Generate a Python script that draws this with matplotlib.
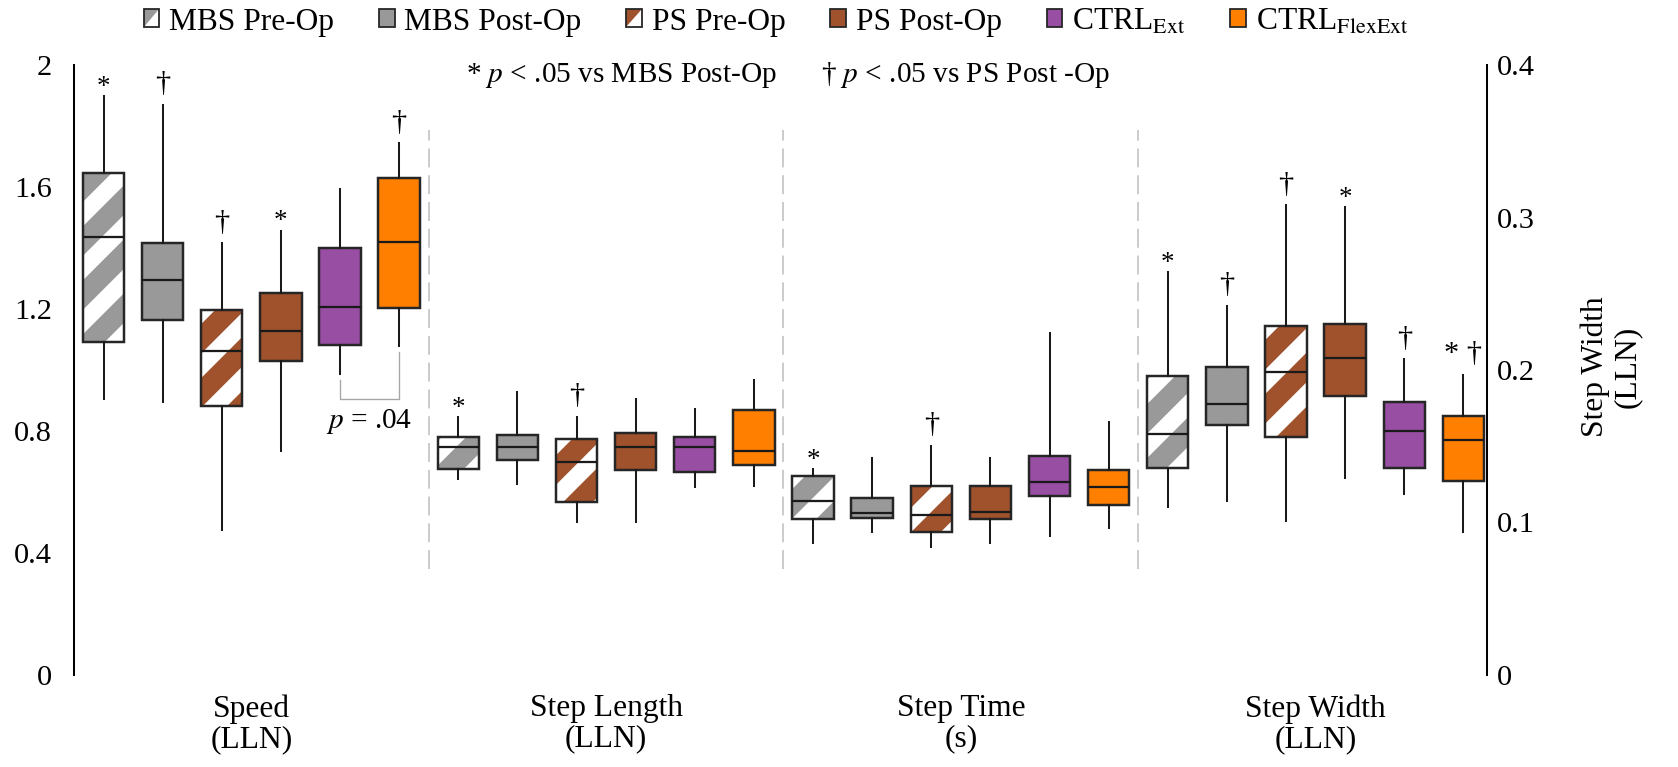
import numpy as np
import matplotlib
matplotlib.use("Agg")
import matplotlib.pyplot as plt
from matplotlib.patches import Patch, PathPatch, Rectangle, Polygon
from matplotlib.legend_handler import HandlerBase

plt.rcParams['font.family'] = ['Liberation Serif', 'DejaVu Serif']
plt.rcParams['mathtext.fontset'] = 'stix'
plt.rcParams['hatch.linewidth'] = 9.3

groups = ['Speed\n(LLN)', 'Step Length\n(LLN)', 'Step Time\n(s)', 'Step Width\n(LLN)']
series = ['MBS Pre-Op', 'MBS Post-Op', 'PS Pre-Op', 'PS Post-Op',
          'CTRL$_{\\mathrm{Ext}}$', 'CTRL$_{\\mathrm{FlexExt}}$']
colors = ['#999999', '#999999', '#A0522D', '#A0522D', '#984EA3', '#FF7F00']
hatched = [True, False, True, False, False, False]

# box statistics per measure: lower whisker, Q1, median, Q3, upper whisker
speed_lo = [0.904, 0.894, 0.475, 0.735, 0.987, 1.079]
speed_q1 = [1.091, 1.164, 0.882, 1.030, 1.082, 1.202]
speed_med = [1.435, 1.295, 1.063, 1.129, 1.208, 1.421]
speed_q3 = [1.645, 1.415, 1.197, 1.251, 1.401, 1.628]
speed_hi = [1.898, 1.869, 1.415, 1.457, 1.592, 1.743]

length_lo = [0.644, 0.626, 0.502, 0.502, 0.615, 0.621]
length_q1 = [0.676, 0.704, 0.568, 0.673, 0.667, 0.688]
length_med = [0.749, 0.749, 0.700, 0.748, 0.748, 0.733]
length_q3 = [0.781, 0.786, 0.773, 0.794, 0.781, 0.870]
length_hi = [0.845, 0.928, 0.847, 0.904, 0.871, 0.967]

time_lo = [0.432, 0.468, 0.421, 0.432, 0.457, 0.481]
time_q1 = [0.511, 0.515, 0.468, 0.511, 0.588, 0.558]
time_med = [0.572, 0.532, 0.526, 0.535, 0.632, 0.617]
time_q3 = [0.653, 0.581, 0.619, 0.621, 0.719, 0.673]
time_hi = [0.674, 0.712, 0.752, 0.712, 1.120, 0.831]

width_lo = [0.110, 0.114, 0.101, 0.129, 0.119, 0.094]
width_q1 = [0.136, 0.164, 0.156, 0.183, 0.136, 0.127]
width_med = [0.158, 0.178, 0.199, 0.208, 0.160, 0.154]
width_q3 = [0.196, 0.202, 0.229, 0.230, 0.179, 0.170]
width_hi = [0.264, 0.242, 0.308, 0.307, 0.207, 0.197]

speed_sig = ['*', '†', '†', '*', '', '†']
length_sig = ['*', '', '†', '', '', '']
time_sig = ['*', '', '†', '', '', '']
width_sig = ['*', '†', '†', '*', '†', '* †']

speed_p = '$p$ = .04'

measures = [
    (speed_lo, speed_q1, speed_med, speed_q3, speed_hi, speed_sig),
    (length_lo, length_q1, length_med, length_q3, length_hi, length_sig),
    (time_lo, time_q1, time_med, time_q3, time_hi, time_sig),
    (width_lo, width_q1, width_med, width_q3, width_hi, width_sig),
]

edge = '#262626'


class SplitKey:
    def __init__(self, color):
        self.color = color


class SplitKeyHandler(HandlerBase):
    # legend key: white square with the upper-left half in the group colour
    def create_artists(self, legend, orig_handle, xdescent, ydescent, width, height,
                       fontsize, trans):
        x0, y0 = -xdescent, -ydescent
        bg = Rectangle((x0, y0), width, height, facecolor='white', edgecolor='none',
                       transform=trans)
        tri = Polygon([(x0, y0), (x0, y0 + height), (x0 + width, y0 + height)],
                      closed=True, facecolor=orig_handle.color, edgecolor='none',
                      transform=trans)
        frame = Rectangle((x0, y0), width, height, facecolor='none', edgecolor=edge,
                          linewidth=0.8, transform=trans)
        return [bg, tri, frame]


W, H, DPI = 1678, 767, 162
fig = plt.figure(figsize=(W / DPI, H / DPI), dpi=DPI)
ax = fig.add_axes([74 / W, 92 / H, 1413 / W, 610 / H])
ax2 = ax.twinx()

ax.set_xlim(-0.5, 23.4)
ax.set_ylim(0, 2)
ax2.set_ylim(0, 0.4)

for g, (lo, q1, med, q3, hi, sig) in enumerate(measures):
    target = ax2 if g == 3 else ax
    pos = [g * 6 + i for i in range(6)]
    stats = [dict(whislo=lo[i], q1=q1[i], med=med[i], q3=q3[i], whishi=hi[i], fliers=[])
             for i in range(6)]
    bp = target.bxp(stats, positions=pos, widths=0.7, patch_artist=True,
                    showcaps=False, showfliers=False, manage_ticks=False,
                    boxprops=dict(edgecolor=edge, linewidth=1.1),
                    whiskerprops=dict(color='#1a1a1a', linewidth=0.9),
                    medianprops=dict(color='#1a1a1a', linewidth=1.0))
    for i, box in enumerate(bp['boxes']):
        if hatched[i]:
            under = PathPatch(box.get_path(), transform=box.get_transform(),
                              facecolor='white', edgecolor=colors[i], hatch='/',
                              linewidth=0, zorder=1.5)
            target.add_patch(under)
            box.set_facecolor('none')
        else:
            box.set_facecolor(colors[i])
    for i, s in enumerate(sig):
        if not s:
            continue
        if s == '*':
            off, fs = 1, 12
        else:
            off, fs = 6, 13.5
        target.annotate(s, (pos[i], hi[i]), xytext=(0, off), textcoords='offset points',
                        ha='center', va='baseline', fontsize=fs)

# p-value bracket between the two control groups (speed)
b_lo = min(speed_lo[4], speed_lo[5]) - 0.083
ax.plot([4, 4, 5, 5], [speed_lo[4] - 0.02, b_lo, b_lo, speed_lo[5] - 0.02],
        color='#A6A6A6', linewidth=0.6)
ax.text(4.5, b_lo - 0.073, speed_p, ha='center', va='center', fontsize=13)

# dashed separators between measures
for xs in [5.5, 11.5, 17.5]:
    ax.plot([xs, xs], [0.348, 1.787], color='#BFBFBF', linewidth=0.7,
            linestyle=(0, (12, 5)))

# axes styling
for a in (ax, ax2):
    for side in ['top', 'bottom']:
        a.spines[side].set_visible(False)
ax.spines['right'].set_visible(False)
ax2.spines['left'].set_visible(False)
ax.spines['left'].set_linewidth(0.9)
ax2.spines['right'].set_linewidth(0.9)

left_ticks = np.arange(0, 2.01, 0.4)
ax.set_yticks(left_ticks, ['0', '0.4', '0.8', '1.2', '1.6', '2'])
ax2.set_yticks([0, 0.1, 0.2, 0.3, 0.4], ['0', '0.1', '0.2', '0.3', '0.4'])
ax.tick_params(axis='y', length=0, pad=9.8, labelsize=13.5)
ax2.tick_params(axis='y', length=0, pad=4.4, labelsize=13.5)

ax.set_xticks([2.5, 8.5, 14.5, 20.5], groups)
ax.tick_params(axis='x', length=0, pad=8.5, labelsize=14)
for t in ax.get_xticklabels():
    t.set_linespacing(1.05)

fig.text(1611 / W, 1 - 367 / H, 'Step Width\n(LLN)', rotation=90, ha='center',
         va='center', fontsize=14, linespacing=1.15)

# legend
handles = []
for i in range(6):
    if hatched[i]:
        handles.append(SplitKey(colors[i]))
    else:
        handles.append(Patch(facecolor=colors[i], edgecolor=edge, linewidth=0.8))
fig.legend(handles, series, ncol=6, loc='center', bbox_to_anchor=(776 / W, 1 - 22 / H),
           frameon=False, fontsize=14, handlelength=0.5, handleheight=0.5,
           handletextpad=0.3, columnspacing=1.43, borderaxespad=0,
           handler_map={SplitKey: SplitKeyHandler()})

fig.text(621 / W, 1 - 75 / H, '* $p$ < .05 vs MBS Post-Op', ha='center', va='center', fontsize=13)
fig.text(965 / W, 1 - 75 / H, '† $p$ < .05 vs PS Post -Op', ha='center', va='center', fontsize=13)

fig.savefig('out.png', dpi=DPI)
